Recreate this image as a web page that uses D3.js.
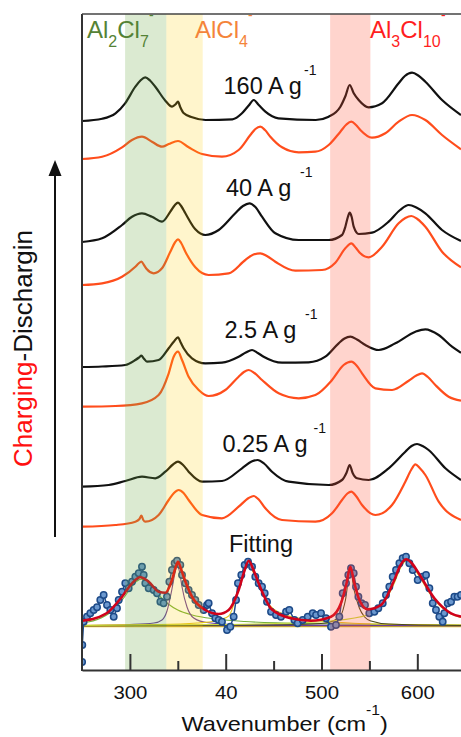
<!DOCTYPE html>
<html>
<head>
<meta charset="utf-8">
<script src="https://cdn.jsdelivr.net/npm/d3@7"></script>
<style>
  body { margin: 0; background: #fff; }
  svg { display: block; font-family: "Liberation Sans", Arial, sans-serif; }
</style>
</head>
<body>
<div id="chart"></div>
<script>
// Spectra: [wavenumber, intensity above own baseline] (a.u.)
const black160 = [[250,0],[271,2.3],[285,7.7],[295,17.7],[305.7,34.3],[311,40.5],[316,43.7],[321,40.5],[326.5,34.3],[337,20.3],[344,14.3],[348,17],[350.2,19.3],[352.5,14],[356,8],[365,3.7],[379,1],[407,1.7],[417,7.7],[424,15.5],[429.2,21],[434.5,16],[441.4,9.3],[455,2.7],[494,1],[507.5,4.3],[519.7,14.3],[525,25],[529.4,36],[533.5,28],[538.8,21],[549.2,13.7],[563.2,17.7],[580.5,37.7],[587,45],[594.5,48.3],[601,45.5],[608.4,39.3],[625.8,21],[645.6,6]];
const orange160 = [[250,1],[271,3.3],[291.8,12.7],[302.2,20],[312.6,23.3],[323,18.3],[333.5,13.3],[340.5,16],[350.2,19],[361.3,12.7],[375.3,6],[396.1,3.3],[413.5,10],[425.7,25],[431,31],[436.1,33.3],[441,30],[446.6,23.3],[458.8,12.7],[476.2,7.7],[493.6,8.3],[507.5,15],[519.7,28.3],[526,35.5],[531.1,38.3],[536,35],[540.5,30],[552.7,22.3],[566.6,26.7],[580.5,38.3],[594.5,45],[608.4,40],[625.8,25],[645.6,10.7]];
const black40 = [[250,0],[271,3.7],[291.8,17],[302.2,25.3],[312.6,28.7],[323,25.3],[333.5,20.3],[342.2,30.3],[347,37],[350.2,39.3],[353.5,36],[357.9,28.7],[368.3,12.7],[378.7,7],[392.7,12],[410,28.7],[418,36],[424.7,38.7],[431,35],[437.9,25.3],[451.8,8.7],[476.2,2],[507.5,2],[521.4,7],[524.9,15.3],[527.5,25],[529.4,29.3],[531.5,25],[533.6,15.3],[538.8,8],[552.7,9.3],[570.1,20.3],[582,32],[591,37],[599,34.5],[608.4,28.7],[625.8,12],[645.6,1]];
const orange40 = [[250,0],[271,1.7],[291.8,8.3],[305.7,18.3],[309,21.5],[312,23.3],[315,19.5],[317.8,15.7],[324.8,11.7],[333.5,16.7],[342.2,33.3],[347,42.5],[350.2,45.7],[353.5,42],[357.9,33.3],[368.3,17.7],[382.2,10],[403.1,11.7],[420.5,25],[429,30.5],[436.1,31.7],[443,29],[451.8,23.3],[472.7,14.3],[500.5,15],[514.4,22.3],[524.9,36.7],[531.1,41.7],[536,37],[540.5,31.7],[549.2,27.7],[563.2,38.3],[580.5,61.7],[587.5,67],[593.8,69],[600,66],[608.4,58.3],[625.8,33.3],[645.6,17.7]];
const black25 = [[250,0],[271,0.5],[295.2,2],[305.7,7],[309.5,9.5],[312,11.3],[314.5,8.5],[317.8,5.3],[330,7],[340.5,18.7],[346,25.5],[350.2,29.7],[353,24.5],[356.1,18.7],[364.8,8.7],[378.7,3.7],[396.1,4.3],[413.5,10.3],[421,14.5],[427.5,17],[433.5,14],[439.6,10.3],[458.8,4.3],[486.6,4.7],[504,10.3],[517.9,23.7],[524,28.5],[530.1,30.3],[537,27.5],[545.8,22],[559.7,17],[577.1,23.7],[598,35.3],[608.4,37.7],[622.3,32],[636.2,20.3],[645.6,14.3]];
const orange25 = [[250,0.3],[284.8,1],[312.6,3.7],[330,12],[340.5,33.7],[345.7,50.3],[350.2,55.3],[354.4,47],[361.3,30.3],[371.8,17],[382.2,11],[399.6,17],[413.5,30.3],[419,35],[424,37],[430,34],[437.9,27],[455.3,13.7],[476.2,8.7],[493.6,12],[511,27],[523.1,42],[531.1,45.3],[537,41],[542.3,33.7],[556.2,18.7],[573.6,17],[591,26.3],[599,31.5],[604.9,33.7],[611,30],[618.8,22],[632.7,10.3],[645.6,6.3]];
const black025 = [[250,0.3],[277.8,2],[295.2,6],[312.6,10.3],[326.5,8.7],[337,15.3],[345,22.5],[350.2,25.3],[355.5,22],[361.3,15.3],[375.3,5.3],[396.1,6],[417,18.7],[427,25.5],[433.4,27],[440,23.5],[448.3,15.3],[465.7,5.3],[507.5,2],[521.4,7],[526,14],[529.4,22],[532.5,14],[537.1,8.7],[549.2,7],[570.1,18.7],[587.5,35.3],[594,41],[599.7,43],[605.5,41],[611.8,37],[629.3,18.7],[645.6,7]];
const orange025 = [[250,1.3],[284.8,3],[305.7,6.3],[310,9],[312,12.3],[314,8],[316.1,6.3],[330,13],[340.5,28],[346,35],[350.9,38],[356,35],[361.3,28],[375.3,13],[396.1,9.7],[413.5,21.3],[424,30],[429.2,32],[434.5,28.5],[441.4,19.7],[458.8,8],[493.6,6.3],[511,14.7],[521.4,28],[527,34.5],[531.1,36.3],[536,32],[542.3,23],[556.2,13],[573.6,23],[587.5,46.3],[593.5,58],[598,63.7],[602.5,60],[608.4,53],[622.3,26.3],[645.6,8]];

// baselines of each trace (a.u., stacked offsets)
const spectra = [black160, orange160, black40, orange40, black25, orange25, black025, orange025];
const offsets = [549, 510, 428, 385, 303, 263, 183, 142];
const rateLabels = ['160 A g', '40 A g', '2.5 A g', '0.25 A g'];

// Fitting panel
const fitOffset = 44;
const fitPoints = [[250.1,-36],[250.3,-19],[251.7,4.3],[255.2,9.3],[258.7,12.7],[262.2,16],[265.7,18.7],[269.1,26],[272.6,31],[276.1,21],[279.6,16],[283.1,9.3],[286.5,17.7],[288.3,26],[291.8,34.3],[295.2,42.7],[298.7,37.7],[302.2,44.3],[305.7,49.3],[309.2,52.7],[312.6,59.3],[314.4,51],[316.1,42.7],[319.6,37.7],[324.8,36],[328.3,32.7],[331.8,24.3],[335.2,22.7],[338.7,29.3],[341.2,44.3],[343.9,56],[346.7,62.7],[349.2,65.3],[352.6,61],[354.4,51],[357.9,42.7],[361.3,36],[364.8,31],[368.3,26],[371.8,21],[377,16],[380.5,21],[382.2,22.7],[385.7,12.7],[389.2,7.7],[392.7,6],[396.1,4.3],[401.4,-4],[404.8,-0.7],[408.3,9.3],[410.8,26],[412.8,42.7],[416.3,51],[419.8,61],[423.3,64.3],[427.5,59.3],[430.9,49.3],[434.4,42.7],[437.9,39.3],[440.7,32.7],[443.1,24.3],[447.3,14.3],[452.5,11],[457.7,9.3],[463,14.3],[466.4,16],[471.7,6],[475.1,2.7],[480.4,6],[485.6,9.3],[490.8,12.7],[494.3,11],[499.5,12.7],[504.7,7.7],[509.9,-0.7],[515.1,1],[518.6,9.3],[522.1,32.7],[525.6,42.7],[528,51],[530.8,57.7],[533.6,52.7],[536,39.3],[538.5,29.3],[541.9,22.7],[545.4,21],[549.9,12.7],[555.2,14.3],[559.3,17.7],[563.9,22.7],[567.3,31],[570.8,39.3],[574.3,49.3],[577.8,56],[581.3,62.7],[584.7,67.7],[588.2,69.3],[591.7,62.7],[595.2,56],[600.4,46],[605.6,49.3],[609.1,51],[612.6,37.7],[616.1,22.7],[619.5,16],[623,9.3],[626.5,4.3],[628.2,12.7],[631.7,22.7],[635.2,24.3],[638.7,29.3],[642.1,29.3],[645.6,31]];
const fitLine = [[250,5.3],[263.9,7.7],[277.8,14.3],[291.8,29.3],[302.2,42.7],[310.9,48.7],[319.6,44.3],[330,34.3],[337,33.3],[343.9,46],[347.5,58],[350.2,64.3],[353,58],[356.1,49.3],[364.8,29.3],[378.7,16],[392.7,12],[403.1,16],[413.5,36],[419.5,55],[424,65.3],[429,56],[434.4,42.7],[448.3,16.5],[468.2,7.7],[489,5.3],[509.9,9.3],[520.3,22.7],[526,42],[530.1,59.3],[534,44],[539.5,26],[548.2,16.7],[562.1,21],[576,46],[582,60],[588.2,66.7],[594,63],[600.4,54.3],[617.8,27.7],[635.2,12.7],[645.6,9.3]];
const compGreen = [[250,3],[270,8],[285,18],[295,30],[303,41],[312,46.7],[320,42],[330,31],[340,22],[350,16],[365,11],[390,7],[420,4.5],[460,3],[520,2],[645.6,1]];
const compPurple = [[250,0.5],[300,1.5],[325,3],[333.5,6],[338.7,15],[343.9,37],[347,53],[349.5,61],[352,53],[354.4,39],[359.6,19],[366.6,8],[380,3.5],[420,1.2],[645.6,0.2]];
const compYellow = [[250,0.8],[330,1.5],[370,3],[389,5],[403.1,10],[413.5,38],[418.5,54],[423.5,63],[428.5,54],[434.4,41],[444.8,22],[460,12],[482,7],[510,4.3],[560,2],[645.6,1]];
const compOlive = [[250,0.3],[450,1],[499.5,2.5],[512,5],[520.3,11],[525,26],[530.1,57],[534,36],[539.5,18],[545,9],[551.7,5],[570,2],[645.6,0.5]];
const compLime = [[250,0.5],[400,1.5],[470,3],[510,5],[548,11],[562,19],[576,43],[582,57],[588.2,65],[594,61],[600.4,52],[617.8,26],[635.2,12],[645.6,8.5]];

// Species bands (cm-1)
const bandRanges = [[295, 338], [338, 376], [509, 551]];
const speciesText = [['Al', '2', 'Cl', '7'], ['AlCl', '4'], ['Al', '3', 'Cl', '10']];

// Axis ticks
const majorTicks = [300, 400, 500, 600];
const tickLabels = ['300', '40', '500', '600'];
const minorTicks = [350, 450, 550];

const W = 461, H = 737;
const PLOT = { LEFT: 82, RIGHT: 461, TOP: 14, BOTTOM: 670 };

const svg = d3.select('#chart').append('svg')
    .attr('width', W)
    .attr('height', H);

const x = d3.scaleLinear().domain([250, 645.6]).range([PLOT.LEFT, PLOT.RIGHT]);
const y = d3.scaleLinear().domain([0, 656]).range([PLOT.BOTTOM, PLOT.TOP]);

svg.append('clipPath').attr('id', 'clip')
  .append('rect')
    .attr('x', PLOT.LEFT).attr('y', PLOT.TOP)
    .attr('width', PLOT.RIGHT - PLOT.LEFT).attr('height', PLOT.BOTTOM - PLOT.TOP);

const plot = svg.append('g').attr('clip-path', 'url(#clip)');

const line = off => d3.line()
    .x(d => x(d[0]))
    .y(d => y(d[1] + off))
    .curve(d3.curveMonotoneX);

// stacked spectra
const traceColors = ['#111', '#ff4d1c'];
spectra.forEach((s, i) => {
    plot.append('path')
        .datum(s)
        .attr('d', line(offsets[i]))
        .attr('fill', 'none')
        .attr('stroke', traceColors[i % 2])
        .attr('stroke-width', 2.2);
});

// fitting panel: baseline, components, data, fit
plot.append('path').datum([[250, -0.6], [645.6, -0.6]])
    .attr('d', line(fitOffset)).attr('stroke', '#e2c21c').attr('stroke-width', 1.2).attr('fill', 'none');
plot.append('path').datum([[250, 0.4], [645.6, 0.4]])
    .attr('d', line(fitOffset)).attr('stroke', '#5e3b86').attr('stroke-width', 1.2).attr('fill', 'none');

const comps = [compGreen, compPurple, compYellow, compOlive, compLime];
const compColors = ['#76b03a', '#6a3d9a', '#e6c31a', '#4a4a1c', '#c9dc3a'];
comps.forEach((c, i) => {
    plot.append('path').datum(c)
        .attr('d', line(fitOffset))
        .attr('fill', 'none')
        .attr('stroke', compColors[i])
        .attr('stroke-width', 1.1);
});

plot.append('path').datum(fitPoints)
    .attr('d', d3.line().x(d => x(d[0])).y(d => y(d[1] + fitOffset)))
    .attr('fill', 'none').attr('stroke', '#1f4c8a').attr('stroke-width', 1.5);

plot.selectAll('circle.pt').data(fitPoints).enter().append('circle')
    .attr('class', 'pt')
    .attr('cx', d => x(d[0]))
    .attr('cy', d => y(d[1] + fitOffset))
    .attr('r', 3.2)
    .attr('fill', '#6b98cf')
    .attr('stroke', '#1d4a88')
    .attr('stroke-width', 1.5);

plot.append('path').datum(fitLine)
    .attr('d', line(fitOffset))
    .attr('fill', 'none')
    .attr('stroke', '#d0021b')
    .attr('stroke-width', 2.6);

// translucent species bands on top of traces
const bandColors = ['rgba(112,173,71,0.25)', 'rgba(255,204,0,0.2)', 'rgba(255,85,55,0.25)'];
plot.selectAll('rect.band').data(bandRanges).enter().append('rect')
    .attr('class', 'band')
    .attr('x', d => x(d[0]))
    .attr('width', d => x(d[1]) - x(d[0]))
    .attr('y', PLOT.TOP)
    .attr('height', PLOT.BOTTOM - PLOT.TOP)
    .attr('fill', (d, i) => bandColors[i]);

// species labels
const speciesColors = ['#548235', '#f4843a', '#ff1e1e'];
const speciesX = [87, 195, 370];
speciesText.forEach((parts, i) => {
    const t = svg.append('text')
        .attr('x', speciesX[i]).attr('y', 38)
        .attr('fill', speciesColors[i])
        .attr('font-size', 24);
    parts.forEach((p, j) => {
        const sub = j % 2 === 1;
        t.append('tspan')
            .attr('font-size', sub ? 16 : 24)
            .attr('dy', j === 0 ? 0 : (sub ? 9 : -9))
            .text(p);
    });
    // clipped superscript charge mark
    svg.append('text')
        .attr('x', [149, 248, 441][i]).attr('y', 20)
        .attr('fill', speciesColors[i])
        .attr('font-size', 14)
        .text('-');
});

// rate labels
const rateX = [223.5, 226, 224.5, 222.5];
const rateY = [94.3, 196, 338.3, 451.7];
const supX = [304, 300, 305, 313.5];
rateLabels.forEach((l, i) => {
    svg.append('text')
        .attr('x', rateX[i]).attr('y', rateY[i])
        .attr('font-size', 23.5).attr('fill', '#111')
        .text(l);
    svg.append('text')
        .attr('x', supX[i]).attr('y', rateY[i] - 19)
        .attr('font-size', 14).attr('fill', '#111')
        .text('-1');
});

svg.append('text')
    .attr('x', 229).attr('y', 551.7)
    .attr('font-size', 23.5).attr('fill', '#111')
    .text('Fitting');

// axes
const xMajor = d3.axisBottom(x)
    .tickValues(majorTicks)
    .tickFormat((d, i) => tickLabels[i])
    .tickSizeInner(-16)
    .tickSizeOuter(0)
    .tickPadding(16);
const gx = svg.append('g')
    .attr('transform', `translate(0, ${PLOT.BOTTOM})`)
    .call(xMajor);
gx.select('.domain').attr('stroke', '#333').attr('stroke-width', 2);
gx.selectAll('.tick line').attr('stroke', '#333').attr('stroke-width', 2);
gx.selectAll('.tick text')
    .attr('font-size', 18.5)
    .attr('font-family', '"Liberation Sans", Arial, sans-serif')
    .attr('fill', '#111')
    .attr('transform', 'scale(1.1,1)');

const xMinor = d3.axisBottom(x)
    .tickValues(minorTicks)
    .tickFormat('')
    .tickSizeInner(-9)
    .tickSizeOuter(0);
const gm = svg.append('g')
    .attr('transform', `translate(0, ${PLOT.BOTTOM})`)
    .call(xMinor);
gm.select('.domain').remove();
gm.selectAll('.tick line').attr('stroke', '#333').attr('stroke-width', 2);

svg.append('line')
    .attr('x1', PLOT.LEFT).attr('x2', PLOT.LEFT)
    .attr('y1', y.range()[1]).attr('y2', y.range()[0] + 1)
    .attr('stroke', '#333').attr('stroke-width', 2);
svg.append('line')
    .attr('x1', PLOT.LEFT).attr('x2', PLOT.RIGHT)
    .attr('y1', PLOT.TOP).attr('y2', PLOT.TOP)
    .attr('stroke', '#444').attr('stroke-width', 1.5);

// x title
const xt = svg.append('text')
    .attr('transform', 'translate(181.5, 731) scale(1.12,1)')
    .attr('font-size', 21).attr('fill', '#111');
xt.append('tspan').text('Wavenumber (cm');
xt.append('tspan').attr('font-size', 14).attr('dy', -16).text('-1');
xt.append('tspan').attr('dy', 16).text(')');

// direction arrow + vertical label
svg.append('line')
    .attr('x1', 55).attr('x2', 55)
    .attr('y1', 537).attr('y2', 172)
    .attr('stroke', '#111').attr('stroke-width', 2);
svg.append('path')
    .attr('d', 'M55,160 L48.5,176 L61.5,176 Z')
    .attr('fill', '#111');

const vt = svg.append('text')
    .attr('transform', 'translate(32, 467) rotate(-90)')
    .attr('font-size', 26);
vt.append('tspan').attr('fill', '#ff1010').text('Charging');
vt.append('tspan').attr('fill', '#111').text('-Dischargin');
</script>
</body>
</html>
